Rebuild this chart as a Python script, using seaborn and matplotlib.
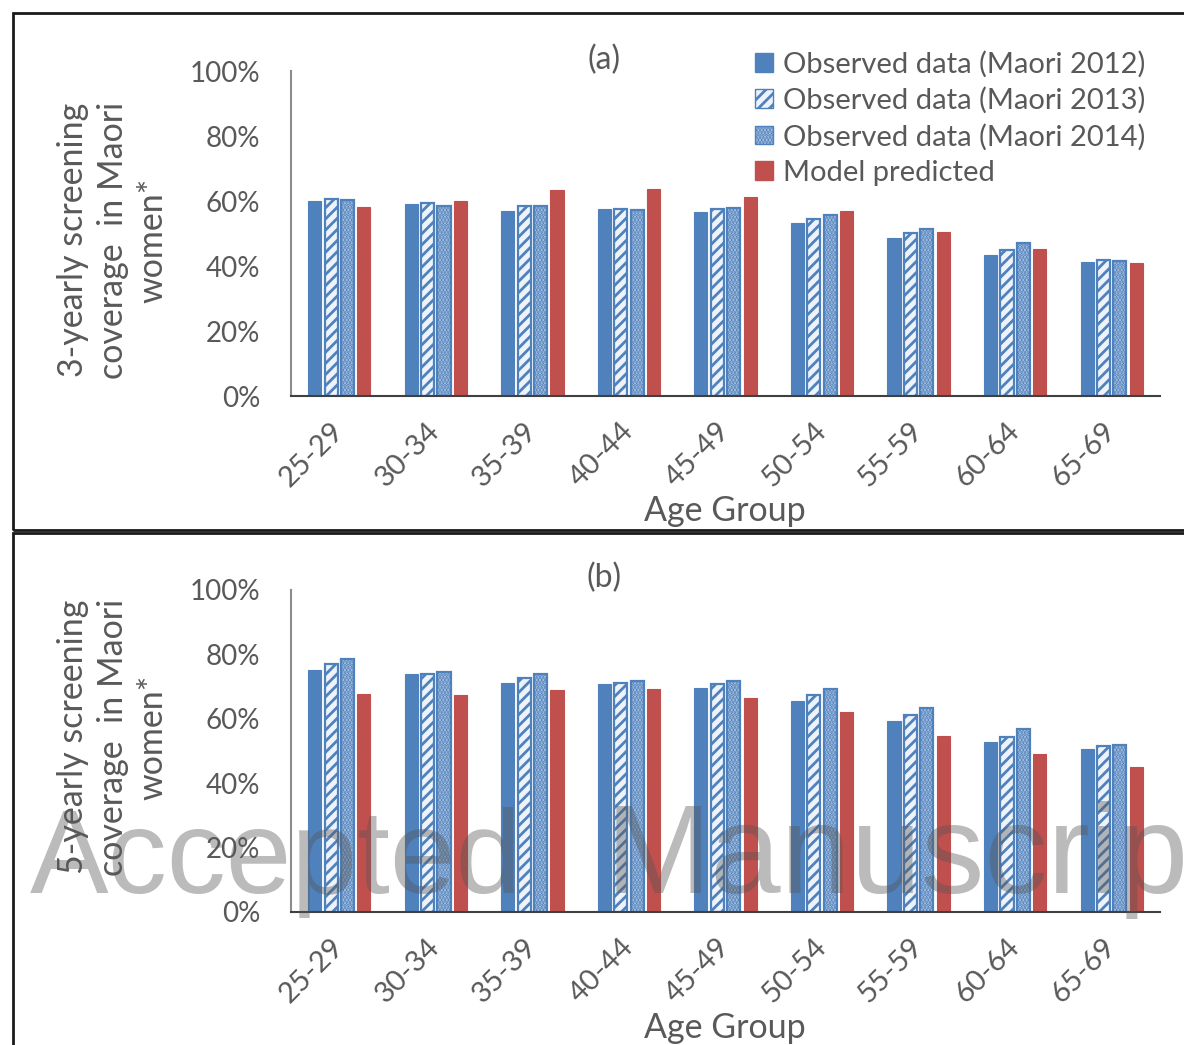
import numpy as np
import pandas as pd
import matplotlib
matplotlib.use("Agg")
import matplotlib.pyplot as plt
import seaborn as sns
from matplotlib.patches import Patch, Rectangle
from matplotlib.ticker import FuncFormatter

# ---- data (coverage, %) ----
age_groups = ["25-29", "30-34", "35-39", "40-44", "45-49",
              "50-54", "55-59", "60-64", "65-69"]
series_names = ["Observed data (Maori 2012)", "Observed data (Maori 2013)",
                "Observed data (Maori 2014)", "Model predicted"]

three_yr_2012 = [60.1, 59.0, 57.0, 57.4, 56.7, 53.1, 48.5, 43.5, 41.2]
three_yr_2013 = [60.7, 59.3, 58.5, 57.6, 57.6, 54.6, 50.1, 44.9, 41.8]
three_yr_2014 = [60.3, 58.6, 58.5, 57.2, 58.0, 55.8, 51.5, 47.0, 41.6]
three_yr_model = [58.2, 60.1, 63.4, 63.8, 61.3, 57.0, 50.5, 45.1, 40.8]

five_yr_2012 = [75.2, 73.9, 71.2, 70.8, 69.7, 65.4, 59.4, 52.8, 50.5]
five_yr_2013 = [77.0, 73.9, 72.7, 71.0, 70.7, 67.3, 61.3, 54.3, 51.6]
five_yr_2014 = [78.5, 74.5, 73.9, 71.8, 71.8, 69.2, 63.3, 56.7, 51.9]
five_yr_model = [67.7, 67.3, 68.9, 69.4, 66.6, 62.2, 54.7, 49.0, 44.9]

y_ticks = [0, 20, 40, 60, 80, 100]


def long_frame(values):
    rows = []
    for name, vals in zip(series_names, values):
        for age, v in zip(age_groups, vals):
            rows.append({"age": age, "series": name, "value": v})
    return pd.DataFrame(rows)


df_a = long_frame([three_yr_2012, three_yr_2013, three_yr_2014, three_yr_model])
df_b = long_frame([five_yr_2012, five_yr_2013, five_yr_2014, five_yr_model])

# ---- styling ----
sns.set_theme(style="white")
plt.rcParams["font.family"] = ["Lato", "DejaVu Sans"]
plt.rcParams["hatch.linewidth"] = 2.0

BLUE = "#4F81BD"
RED = "#C0504D"
TEXT = "#595959"
bar_styles = [
    dict(facecolor=BLUE, edgecolor=BLUE, hatch=None, linewidth=0.8),
    dict(facecolor="#EEF3FA", edgecolor=BLUE, hatch="///", linewidth=1.6),
    dict(facecolor="#B9CDE5", edgecolor=BLUE, hatch=".....", linewidth=1.6),
    dict(facecolor=RED, edgecolor=RED, hatch=None, linewidth=0.8),
]

W, H = 1184, 1045
fig = plt.figure(figsize=(W / 100, H / 100), dpi=100)


def px_axes(left, top, right, bottom):
    return fig.add_axes([left / W, 1 - bottom / H, (right - left) / W, (bottom - top) / H])


def draw_panel(ax, df):
    sns.barplot(data=df, x="age", y="value", hue="series", hue_order=series_names,
                palette=[s["facecolor"] for s in bar_styles], saturation=1,
                width=0.68, gap=0.2, errorbar=None, legend=False, ax=ax)
    for cont, st in zip(ax.containers, bar_styles):
        for bar in cont:
            bar.set_facecolor(st["facecolor"])
            bar.set_edgecolor(st["edgecolor"])
            bar.set_linewidth(st["linewidth"])
            if st["hatch"]:
                bar.set_hatch(st["hatch"])
    ax.set_ylim(0, 100)
    ax.set_xlim(-0.5, len(age_groups) - 0.5)
    ax.set_yticks(y_ticks)
    ax.yaxis.set_major_formatter(FuncFormatter(lambda v, p: f"{int(v)}%"))
    ax.tick_params(axis="y", length=0, pad=22, labelsize=20, labelcolor=TEXT)
    ax.tick_params(axis="x", length=0, pad=22, labelsize=21, labelcolor=TEXT)
    for lab in ax.get_xticklabels():
        lab.set_rotation(45)
        lab.set_ha("right")
        lab.set_va("center")
        lab.set_rotation_mode("anchor")
    ax.set_xlabel("")
    ax.set_ylabel("")
    sns.despine(ax=ax)
    ax.spines["left"].set_color("#8C8C8C")
    ax.spines["left"].set_linewidth(1.5)
    ax.spines["bottom"].set_color("#404040")
    ax.spines["bottom"].set_linewidth(1.5)


ax_a = px_axes(291, 71, 1160, 396)
ax_b = px_axes(291, 590, 1160, 912)
draw_panel(ax_a, df_a)
draw_panel(ax_b, df_b)

# panel labels, axis titles
fig.text(604 / W, 1 - 60 / H, "(a)", ha="center", va="center", fontsize=23, color=TEXT)
fig.text(604 / W, 1 - 578 / H, "(b)", ha="center", va="center", fontsize=23, color=TEXT)
fig.text(725 / W, 1 - 511 / H, "Age Group", ha="center", va="center", fontsize=24.5, color=TEXT)
fig.text(725 / W, 1 - 1028 / H, "Age Group", ha="center", va="center", fontsize=24.5, color=TEXT)
fig.text(113 / W, 1 - 240 / H, "3-yearly screening\ncoverage  in Maori\nwomen*",
         ha="center", va="center", rotation=90, multialignment="center",
         fontsize=24.5, color=TEXT, linespacing=1.3)
fig.text(113 / W, 1 - 737 / H, "5-yearly screening\ncoverage  in Maori\nwomen*",
         ha="center", va="center", rotation=90, multialignment="center",
         fontsize=24.5, color=TEXT, linespacing=1.3)

# legend for the top panel
handles = [Patch(facecolor=s["facecolor"], edgecolor=s["edgecolor"],
                 hatch=s["hatch"], linewidth=1.0) for s in bar_styles]
fig.legend(handles, series_names, loc="upper left",
           bbox_to_anchor=(755 / W, 1 - 51 / H), frameon=False,
           fontsize=21, labelcolor=TEXT, handlelength=0.62, handleheight=0.62,
           handletextpad=0.35, labelspacing=0.32, borderpad=0, borderaxespad=0)

# panel frames
fig.add_artist(Rectangle((13 / W, 1 - 530 / H), 1.2, (530 - 13) / H,
                         transform=fig.transFigure, fill=False,
                         edgecolor="#1a1a1a", linewidth=2, clip_on=False))
fig.add_artist(Rectangle((13 / W, -0.2), 1.2, 0.2 + (H - 533) / H,
                         transform=fig.transFigure, fill=False,
                         edgecolor="#1a1a1a", linewidth=2, clip_on=False))

# watermark
wm_font = dict(ha="left", va="baseline",
               family=["Liberation Sans", "DejaVu Sans"],
               color="#555555", alpha=0.4, zorder=10)
fig.text(30 / W, 1 - 893 / H, "Accepted", fontsize=85, **wm_font)
fig.text(606 / W, 1 - 893 / H, "Manuscript", fontsize=91, **wm_font)

fig.savefig("out.png", dpi=100)
